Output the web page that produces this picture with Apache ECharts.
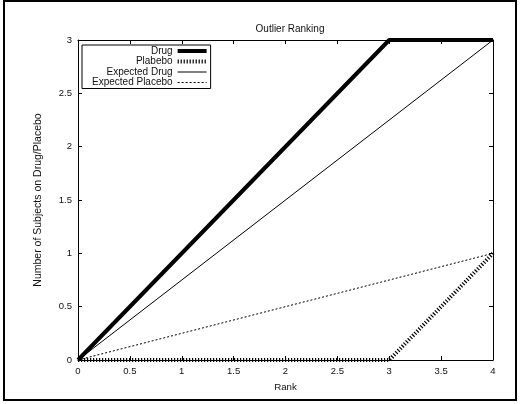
<!DOCTYPE html>
<html>
<head>
<meta charset="utf-8">
<script src="https://cdn.jsdelivr.net/npm/echarts@6/dist/echarts.min.js"></script>
<style>
  html, body { margin: 0; padding: 0; background: #fff; }
  #chart { width: 524px; height: 404px; }
</style>
</head>
<body>
<div id="chart"></div>
<script>
// values
const drugRank = [0, 3, 4]
const drugCount = [0, 3, 3]
const placeboRank = [0, 3, 4]
const placeboCount = [0, 0, 1]
const expDrugRank = [0, 4]
const expDrugCount = [0, 3]
const expPlaceboRank = [0, 4]
const expPlaceboCount = [0, 1]

const xTicks = { min: 0, max: 4, interval: 0.5 }
const yTicks = { min: 0, max: 3, interval: 0.5 }

const pairs = (xs, ys) => xs.map((x, i) => [x, ys[i]])

const font = '"Liberation Sans", Arial, sans-serif'
const ink = '#111'

const axisBase = {
  type: 'value',
  axisLine: { show: true, onZero: false, lineStyle: { color: '#000', width: 1 } },
  axisTick: { show: true, inside: true, length: 4, lineStyle: { color: '#000' } },
  splitLine: { show: false },
  axisLabel: { color: ink, fontSize: 9.5, fontFamily: font, margin: 6 }
}
const mirror = {
  ...axisBase,
  axisLabel: { show: false }
}

const chart = echarts.init(document.getElementById('chart'))
chart.setOption({
  animation: false,
  backgroundColor: '#fff',
  color: ['#000'],
  title: {
    text: 'Outlier Ranking',
    left: 285,
    textAlign: 'center',
    top: 19,
    textStyle: { fontSize: 10, fontWeight: 'normal', color: ink, fontFamily: font }
  },
  graphic: [{
    type: 'rect',
    shape: { x: 4, y: 1, width: 512, height: 399 },
    style: { fill: 'none', stroke: '#000', lineWidth: 2 },
    silent: true
  }],
  legend: {
    orient: 'vertical',
    align: 'right',
    left: 82,
    top: 45,
    itemWidth: 29,
    itemHeight: 8,
    itemGap: 0.5,
    padding: [1, 2, 1, 10],
    borderColor: '#000',
    borderWidth: 1,
    itemStyle: { opacity: 0 },
    lineStyle: { width: 'inherit', type: 'inherit', color: '#000' },
    textStyle: { fontSize: 10, color: ink, fontFamily: font },
    data: ['Drug', 'Plabebo', 'Expected Drug', 'Expected Placebo']
  },
  grid: { left: 78, top: 40, width: 415, height: 320, containLabel: false },
  xAxis: [
    { ...axisBase, ...xTicks, name: 'Rank', nameLocation: 'middle', nameGap: 22,
      nameTextStyle: { fontSize: 9.7, color: ink, fontFamily: font } },
    { ...mirror, ...xTicks, position: 'top' }
  ],
  yAxis: [
    { ...axisBase, ...yTicks, name: 'Number of Subjects on Drug/Placebo', nameLocation: 'middle',
      nameGap: 34, nameTextStyle: { fontSize: 10.5, color: ink, fontFamily: font } },
    { ...mirror, ...yTicks, position: 'right' }
  ],
  series: [
    {
      name: 'Drug', type: 'line', data: pairs(drugRank, drugCount),
      symbol: 'none', clip: false, itemStyle: { color: '#000' },
      lineStyle: { color: '#000', width: 4 }
    },
    {
      name: 'Plabebo', type: 'line', data: pairs(placeboRank, placeboCount),
      symbol: 'none', clip: false, itemStyle: { color: '#000' },
      lineStyle: { color: '#000', width: 4, type: [1.2, 1.8], cap: 'butt' }
    },
    {
      name: 'Expected Drug', type: 'line', data: pairs(expDrugRank, expDrugCount),
      symbol: 'none', clip: false, itemStyle: { color: '#000' },
      lineStyle: { color: '#000', width: 1 }
    },
    {
      name: 'Expected Placebo', type: 'line', data: pairs(expPlaceboRank, expPlaceboCount),
      symbol: 'none', clip: false, itemStyle: { color: '#000' },
      lineStyle: { color: '#000', width: 1, type: [2, 2] }
    }
  ]
})
</script>
</body>
</html>
